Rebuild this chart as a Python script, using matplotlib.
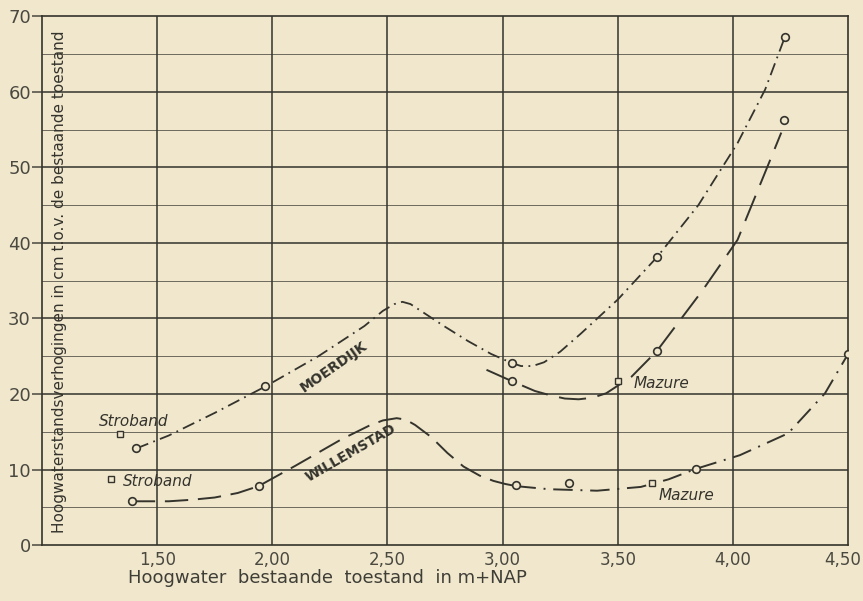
import numpy as np
import matplotlib
matplotlib.use("Agg")
import matplotlib.pyplot as plt
import matplotlib.transforms as mtransforms

# x in m+NAP, y in cm
moerdijk_x = [1.41, 1.55, 1.75, 1.97, 2.20, 2.40, 2.48, 2.53, 2.565, 2.60, 2.65, 2.75, 2.85, 2.95, 3.04,
              3.08, 3.13, 3.18, 3.25, 3.34, 3.50, 3.67, 3.85, 4.02, 4.14, 4.225]
moerdijk_y = [12.8, 14.5, 17.5, 21.0, 25.0, 29.0, 31.0, 31.9, 32.2, 31.9, 30.9, 28.9, 27.0, 25.3, 24.1,
              23.7, 23.7, 24.2, 25.6, 28.0, 32.5, 38.1, 45.0, 53.2, 60.3, 67.2]
moerdijk_pts_x = [1.41, 1.97, 3.04, 3.67, 4.225]
moerdijk_pts_y = [12.8, 21.0, 24.1, 38.1, 67.2]

willem_x = [1.39, 1.55, 1.65, 1.75, 1.85, 1.94, 2.10, 2.30, 2.42, 2.48, 2.54, 2.58, 2.62, 2.69, 2.76,
            2.83, 2.90, 2.96, 3.01, 3.06]
willem_y = [5.8, 5.8, 6.0, 6.3, 6.9, 7.8, 10.5, 14.0, 15.8, 16.5, 16.8, 16.6, 15.9, 14.3, 12.2,
            10.4, 9.2, 8.5, 8.1, 7.8]
willem2_x = [3.06, 3.20, 3.41, 3.60, 3.72, 3.84, 4.03, 4.24, 4.40, 4.50]
willem2_y = [7.8, 7.4, 7.2, 7.7, 8.7, 10.1, 11.9, 14.8, 20.1, 25.3]
willem_pts_x = [1.39, 1.94, 3.06, 3.29, 3.84, 4.50]
willem_pts_y = [5.8, 7.8, 7.9, 8.2, 10.1, 25.3]

mid_x = [2.93, 3.04, 3.14, 3.21, 3.27, 3.33, 3.39, 3.45, 3.56, 3.67, 3.87, 4.02, 4.15, 4.21]
mid_y = [23.2, 21.7, 20.4, 19.8, 19.4, 19.3, 19.5, 20.1, 22.3, 25.7, 33.8, 40.4, 50.1, 54.6]
mid_pts_x = [3.04, 3.67, 4.22]
mid_pts_y = [21.7, 25.7, 56.3]

stroband_x = [1.34, 1.30]
stroband_y = [14.7, 8.8]
mazure_x = [3.50, 3.65]
mazure_y = [21.7, 8.2]

xticks = [1.5, 2.0, 2.5, 3.0, 3.5, 4.0, 4.5]
xticklabels = ["1,50", "2,00", "2,50", "3,00", "3,50", "4,00", "4,50"]
yticks = [0, 10, 20, 30, 40, 50, 60, 70]

paper = "#f0e7cd"
ink = "#34332c"

fig = plt.figure(figsize=(8.63, 6.01), dpi=100, facecolor=paper)
ax = fig.add_axes([0.0487, 0.093, 0.934, 0.88], facecolor=paper)
ax.set_xlim(1.0, 4.5)
ax.set_ylim(0, 70)

# grid
for y in range(5, 70, 10):
    ax.axhline(y, color=ink, lw=0.7, alpha=0.7, zorder=1)
for y in range(10, 70, 10):
    ax.axhline(y, color=ink, lw=1.1, zorder=1)
for x in xticks[:-1]:
    ax.axvline(x, color=ink, lw=1.1, zorder=1)
for s in ax.spines.values():
    s.set_color(ink)
    s.set_linewidth(1.2)

ax.set_xticks(xticks)
ax.set_xticklabels(xticklabels)
ax.set_yticks(yticks)
ax.tick_params(axis="x", length=0, pad=4, labelsize=12, colors="#4a4940")
ax.tick_params(axis="y", length=7, width=1.1, pad=1, labelsize=13, colors="#4a4940")
# last label sits right at the paper edge, nudge it in a bit
last = ax.get_xticklabels()[-1]
last.set_transform(last.get_transform() + mtransforms.ScaledTranslation(-5 / 100, 0, fig.dpi_scale_trans))

# curves
ax.plot(moerdijk_x, moerdijk_y, color=ink, lw=1.3, dashes=[7, 3, 1, 3], zorder=3)
ax.plot(willem_x, willem_y, color=ink, lw=1.4, dashes=[12, 5], zorder=3)
ax.plot(willem2_x, willem2_y, color=ink, lw=1.4, dashes=[10, 4, 1, 4], zorder=3)
ax.plot(mid_x, mid_y, color=ink, lw=1.4, dashes=[14, 6], zorder=3)

mk = dict(ls="none", marker="o", ms=5.5, mfc=paper, mec=ink, mew=1.2, zorder=4)
ax.plot(moerdijk_pts_x, moerdijk_pts_y, **mk)
ax.plot(willem_pts_x, willem_pts_y, **mk)
ax.plot(mid_pts_x, mid_pts_y, **mk)
sq = dict(ls="none", marker="s", ms=4, mfc=paper, mec=ink, mew=1.0, zorder=4)
ax.plot(stroband_x, stroband_y, **sq)
ax.plot(mazure_x, mazure_y, **sq)

lab = dict(color=ink, fontsize=11, style="italic", va="center")
ax.text(1.40, 16.3, "Stroband", ha="center", **lab)
ax.text(1.50, 8.4, "Stroband", ha="center", **lab)
ax.text(3.69, 21.4, "Mazure", ha="center", **lab)
ax.text(3.80, 6.6, "Mazure", ha="center", **lab)

ax.text(2.265, 23.6, "MOERDIJK", rotation=35, ha="center", va="center",
        fontsize=10, fontweight="bold", color=ink)
ax.text(2.34, 12.2, "WILLEMSTAD", rotation=30, ha="center", va="center",
        fontsize=10, fontweight="bold", color=ink)

ax.text(1.075, 34.8, "Hoogwaterstandsverhogingen in cm t.o.v. de bestaande toestand",
        rotation=90, ha="center", va="center", fontsize=11, color=ink)

ax.set_xlabel("Hoogwater  bestaande  toestand  in m+NAP", fontsize=13,
              color="#3f3e36", labelpad=0, x=0.354)

fig.savefig("out.png", dpi=100, facecolor=paper)
